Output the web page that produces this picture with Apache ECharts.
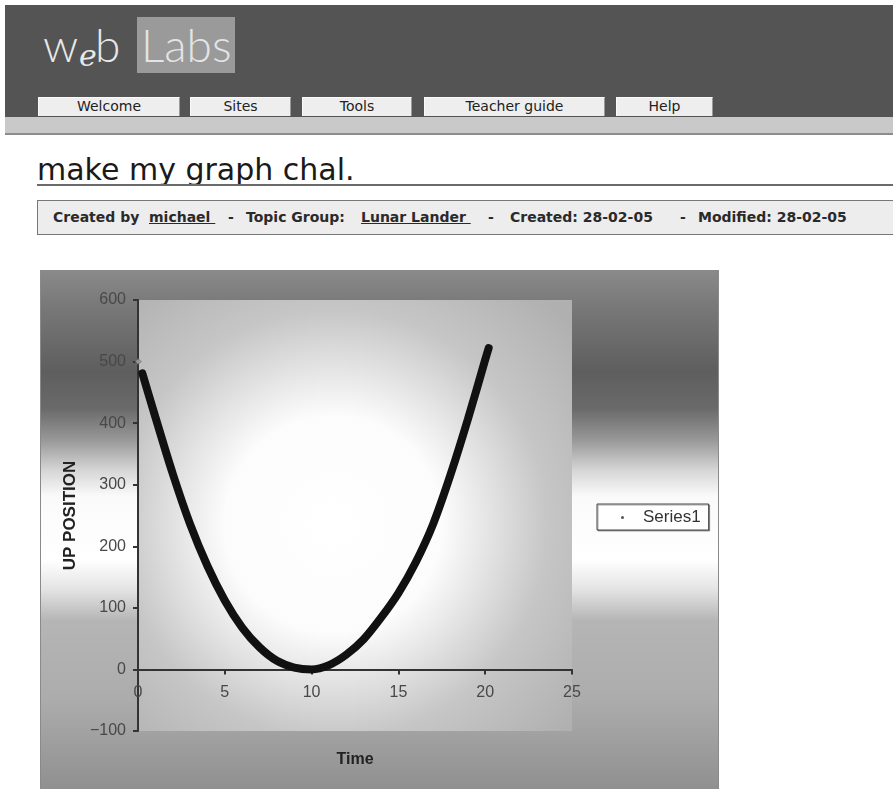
<!DOCTYPE html>
<html>
<head>
<meta charset="utf-8">
<script src="https://cdn.jsdelivr.net/npm/echarts@6/dist/echarts.min.js"></script>
<style>
    body {
        margin: 0;
        width: 893px;
        height: 789px;
        overflow: hidden;
        background: #fff;
        position: relative;
        font-family: "DejaVu Sans", sans-serif;
    }
    .abs { position: absolute; }
    #header { left: 5px; top: 5px; width: 888px; height: 112px; background: #545454; }
    #subbar { left: 5px; top: 117px; width: 888px; height: 16px; background: #c9c9c9; border-bottom: 2px solid #8c8c8c; }
    .logo { font-family: Lato, "Open Sans", sans-serif; font-weight: 300; color: #e8e8e8; font-size: 46px; line-height: 46px; }
    #labsbox { left: 137px; top: 17px; width: 98px; height: 56px; background: #9a9a9a; }
    .tab {
        top: 97px; height: 19px; box-sizing: border-box;
        background: #eeeeee;
        border-top: 1px solid #fafafa; border-left: 1px solid #fafafa; border-right: 1px solid #9a9a9a;
        font-size: 14px; line-height: 17px; text-align: center; color: #222;
    }
    #title { left: 37px; top: 155px; font-size: 30px; line-height: 30px; color: #1a1a1a; white-space: nowrap; }
    #rule { left: 37px; top: 184px; width: 860px; border-top: 2px solid #6a6a6a; }
    #info { left: 37px; top: 200px; width: 880px; height: 35px; box-sizing: border-box; border: 1px solid #777; background: #ededed; }
    .meta { top: 210px; font-size: 14px; line-height: 14px; font-weight: bold; color: #2a2a2a; white-space: pre; }
    .meta u { text-decoration: underline; }
    #frame { left: 40px; top: 270px; width: 679px; height: 540px; box-sizing: border-box; border: 1px solid #8a8a8a; }
    #chart { left: 41px; top: 271px; width: 677px; height: 530px; }
</style>
</head>
<body>
<div class="abs" id="header"></div>
<div class="abs" id="subbar"></div>
<div class="abs" id="labsbox"></div>
<span class="abs logo" style="left:43px;top:22px;">w</span>
<span class="abs logo" style="left:79px;top:33px;font-family:'DejaVu Serif';font-style:italic;font-size:30px;">e</span>
<span class="abs logo" style="left:95px;top:22px;">b</span>
<span class="abs logo" style="left:141px;top:22px;color:#e4e4e4;">Labs</span>

<div class="abs tab" style="left:38px;width:142px;">Welcome</div>
<div class="abs tab" style="left:190px;width:101px;">Sites</div>
<div class="abs tab" style="left:302px;width:110px;">Tools</div>
<div class="abs tab" style="left:424px;width:181px;">Teacher guide</div>
<div class="abs tab" style="left:616px;width:97px;">Help</div>

<div class="abs" id="title">make my graph chal.</div>
<div class="abs" id="rule"></div>
<div class="abs" id="info"></div>
<span class="abs meta" style="left:53px;">Created by</span>
<span class="abs meta" style="left:149px;"><u>michael </u></span>
<span class="abs meta" style="left:228px;">-</span>
<span class="abs meta" style="left:246px;">Topic Group:</span>
<span class="abs meta" style="left:361px;"><u>Lunar Lander </u></span>
<span class="abs meta" style="left:488px;">-</span>
<span class="abs meta" style="left:510px;">Created: 28-02-05</span>
<span class="abs meta" style="left:680px;">-</span>
<span class="abs meta" style="left:698px;">Modified: 28-02-05</span>

<div class="abs" id="frame"></div>
<div class="abs" id="chart"></div>

<script>
    // values
    var timeS = [0.25, 1, 2, 3, 4, 5, 6, 7, 8, 9, 10, 11, 12, 13, 14, 15, 16, 17, 18, 19, 20, 20.2];
    var upPosition = [481, 410, 318, 236, 168, 112, 68, 36, 14, 3, 0, 7, 24, 49, 84, 124, 174, 236, 316, 406, 503, 522];
    var firstTime = [0];
    var firstUp = [500];
    var seriesName = 'Series1';

    var linePoints = timeS.map(function (t, i) {
        return [t, upPosition[i]];
    });
    var startPoints = firstTime.map(function (t, i) {
        return [t, firstUp[i]];
    });

    var chart = echarts.init(document.getElementById('chart'));
    var axisFont = 'Liberation Sans, Arial, sans-serif';
    var plotTop = 29, plotHeight = 431;
    var option = {
        animation: false,
        backgroundColor: {
            type: 'linear', x: 0, y: 0, x2: 0, y2: 1,
            colorStops: [
                {offset: 0, color: '#8a8a8a'},
                {offset: 0.06, color: '#7a7a7a'},
                {offset: 0.19, color: '#5e5e5e'},
                {offset: 0.26, color: '#6a6a6a'},
                {offset: 0.32, color: '#999999'},
                {offset: 0.375, color: '#d5d5d5'},
                {offset: 0.425, color: '#fafafa'},
                {offset: 0.545, color: '#ffffff'},
                {offset: 0.6, color: '#e4e4e4'},
                {offset: 0.66, color: '#b5b5b5'},
                {offset: 0.81, color: '#acacac'},
                {offset: 1, color: '#8c8c8c'}
            ]
        },
        grid: [
            {
                left: 97,
                top: plotTop,
                width: 434,
                height: plotHeight,
                outerBoundsMode: 'none',
                show: true,
                borderWidth: 0,
                backgroundColor: {
                    type: 'radial', x: 0.45, y: 0.52, r: 0.72,
                    colorStops: [
                        {offset: 0, color: '#ffffff'},
                        {offset: 0.35, color: '#fcfcfc'},
                        {offset: 0.69, color: '#c6c6c6'},
                        {offset: 1, color: '#b0b0b0'}
                    ]
                }
            },
            {
                // upper part (0..600) so the time labels sit under the zero line
                left: 97,
                top: plotTop,
                width: 434,
                height: plotHeight * 6 / 7,
                outerBoundsMode: 'none',
                show: false
            }
        ],
        legend: {
            left: 556,
            top: 233,
            data: [{name: seriesName, icon: 'circle', itemStyle: {color: '#555'}}],
            itemWidth: 3,
            itemHeight: 3,
            padding: [5, 8, 4, 24],
            backgroundColor: '#fff',
            borderColor: '#444',
            borderWidth: 1,
            shadowColor: 'rgba(0,0,0,0.35)',
            shadowOffsetX: 1,
            shadowOffsetY: 1,
            textStyle: {fontFamily: axisFont, fontSize: 17, color: '#333', padding: [0, 0, 0, 14]}
        },
        xAxis: [
            {
                type: 'value',
                gridIndex: 0,
                min: 0,
                max: 25,
                interval: 5,
                name: 'Time',
                nameLocation: 'middle',
                nameGap: 21,
                nameTextStyle: {fontFamily: axisFont, fontWeight: 'bold', fontSize: 16, color: '#222'},
                axisLine: {onZero: true, lineStyle: {color: '#333', width: 2}},
                axisTick: {show: true, length: 5, lineStyle: {color: '#333', width: 2}},
                axisLabel: {show: false},
                splitLine: {show: false}
            },
            {
                type: 'value',
                gridIndex: 1,
                min: 0,
                max: 25,
                interval: 5,
                axisLine: {show: false},
                axisTick: {show: false},
                axisLabel: {fontFamily: axisFont, fontSize: 16, color: '#484848', margin: 15},
                splitLine: {show: false}
            }
        ],
        yAxis: [
            {
                type: 'value',
                gridIndex: 0,
                min: -100,
                max: 600,
                interval: 100,
                name: 'UP POSITION',
                nameLocation: 'middle',
                nameGap: 36,
                nameRotate: 90,
                nameTextStyle: {fontFamily: axisFont, fontWeight: 'bold', fontSize: 17, color: '#222'},
                axisLine: {show: true, lineStyle: {color: '#333', width: 2}},
                axisTick: {show: true, length: 5, lineStyle: {color: '#333', width: 2}},
                axisLabel: {
                    fontFamily: axisFont, fontSize: 16, color: '#484848', margin: 12,
                    formatter: function (v) {
                        return v < 0 ? '\u2212' + Math.abs(v) : String(v);
                    }
                },
                splitLine: {show: false}
            },
            {
                type: 'value',
                gridIndex: 1,
                min: 0,
                max: 600,
                show: false
            }
        ],
        series: [
            {
                name: seriesName,
                type: 'line',
                data: linePoints,
                smooth: 0.3,
                showSymbol: false,
                itemStyle: {color: '#555'},
                lineStyle: {color: '#111', width: 8, cap: 'round'}
            },
            {
                name: seriesName,
                type: 'scatter',
                data: startPoints,
                symbol: 'diamond',
                symbolSize: 6,
                itemStyle: {color: '#aaa', borderColor: '#555', borderWidth: 1}
            }
        ]
    };
    chart.setOption(option);
</script>
</body>
</html>
